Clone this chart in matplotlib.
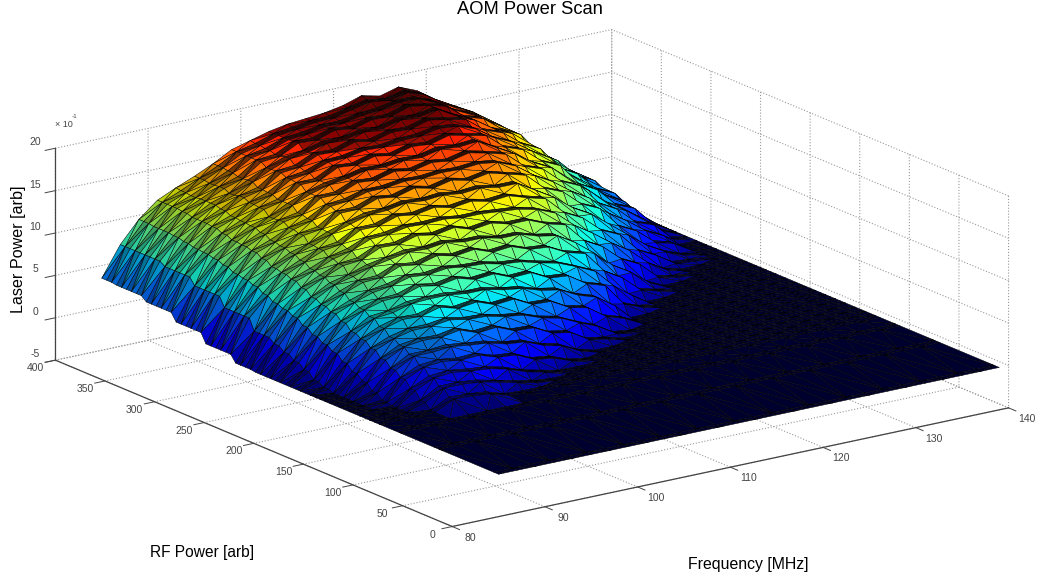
import numpy as np
import matplotlib
matplotlib.use('Agg')
import matplotlib.pyplot as plt
from mpl_toolkits.mplot3d.art3d import Poly3DCollection
from mpl_toolkits.mplot3d import proj3d

plt.rcParams['font.family'] = ['Liberation Sans', 'DejaVu Sans']

# frequency nodes [MHz], 85 to 139 every 2
freq = [85,87,89,91,93,95,97,99,101,103,105,107,109,111,113,115,117,119,121,123,125,127,129,131,133,135,137,139]
# one list per RF power step
z_0   = [0]*28
z_60  = [0]*28
z_100 = [0]*28
z_120 = [0,0,0,0,1.1,1.0,.8,.1,0,0,0,0,0,0,0,0,0,0,0,0,0,0,0,0,0,0,0,0]
z_130 = [0,0,0,.7,1.9,1.9,1.7,1.2,.7,.2,0,0,0,0,0,0,0,0,0,0,0,0,0,0,0,0,0,0]
z_140 = [0,0,0,1.6,2.6,2.8,2.5,2.3,1.8,1.0,.5,0,0,0,0,0,0,0,0,0,0,0,0,0,0,0,0,0]
z_150 = [0,0,.2,2.4,3.4,3.6,3.3,3.4,2.7,2.5,1.5,1.2,.4,0,0,0,0,0,0,0,0,0,0,0,0,0,0,0]
z_160 = [0,0,.8,3.0,4.2,4.2,4.4,4.1,3.9,3.3,3.1,2.2,1.7,.6,0,0,0,0,0,0,0,0,0,0,0,0,0,0]
z_170 = [0,0,1.5,3.7,4.8,5.1,5.0,5.4,4.6,4.8,3.9,3.8,2.7,2.3,1.0,.6,0,0,0,0,0,0,0,0,0,0,0,0]
z_180 = [0,0,2.1,4.4,5.3,5.8,5.8,6.1,5.7,5.6,5.1,4.8,4.0,3.5,2.5,1.6,.3,0,0,0,0,0,0,0,0,0,0,0]
z_190 = [0,.2,2.8,5.0,6.0,6.6,6.5,7.1,6.5,6.8,6.0,6.2,5.1,5.0,3.8,3.3,1.8,1.1,0,0,0,0,0,0,0,0,0,0]
z_200 = [0,.6,3.5,5.4,6.7,6.9,7.5,7.6,7.6,7.3,7.3,6.8,6.5,5.8,5.4,4.3,3.6,2.1,0,0,0,0,0,0,0,0,0,0]
z_210 = [0,1.3,4.0,6.1,7.2,7.8,7.9,8.6,8.2,8.6,8.0,8.2,7.3,7.4,6.3,6.1,4.7,4.0,1.4,.5,0,0,0,0,0,0,0,0]
z_220 = [0,1.9,4.5,6.7,7.6,8.3,8.6,9.2,9.0,9.3,9.0,8.9,8.4,8.2,7.6,7.1,6.2,5.2,3.0,1.4,0,0,0,0,0,0,0,0]
z_230 = [0,2.4,5.1,7.1,8.2,9.0,9.1,10.0,9.7,10.3,9.8,10.1,9.3,9.5,8.7,8.5,7.4,6.8,4.3,3.0,1.1,.5,0,0,0,0,0,0]
z_240 = [0,2.9,5.7,7.5,8.7,9.2,9.9,10.3,10.7,10.6,10.9,10.5,10.5,10.0,10.0,9.3,8.9,7.6,5.9,4.0,2.7,1.0,0,0,0,0,0,0]
z_250 = [.1,3.4,6.1,8.1,9.1,10.0,10.2,11.2,11.1,11.7,11.3,11.7,11.0,11.3,10.7,10.7,9.8,9.2,6.9,5.7,3.8,2.7,.7,.2,0,0,0,0]
z_260 = [.1,3.4,6.4,8.6,9.4,10.3,10.8,11.7,11.8,12.2,12.1,12.2,11.9,11.9,11.7,11.5,11.0,10.1,8.2,6.8,5.2,3.8,1.9,.6,0,0,0,0]
z_270 = [.9,4.7,6.9,8.9,9.9,10.8,11.1,12.3,12.3,13.0,12.7,13.1,12.6,12.9,12.4,12.6,11.9,11.3,9.2,8.1,6.2,5.2,2.9,1.8,.4,.2,0,0]
z_280 = [.9,4.7,7.4,9.1,10.3,10.9,11.8,12.5,13.1,13.2,13.6,13.4,13.6,13.3,13.5,13.1,13.1,11.8,10.5,8.8,7.6,5.9,4.2,2.5,1.3,.4,0,0]
z_290 = [.9,4.7,7.7,9.6,10.6,11.6,11.9,13.3,13.3,14.1,13.8,14.4,13.9,14.4,13.9,14.3,13.7,13.1,11.1,10.2,8.3,7.3,4.8,3.7,1.9,1.3,0,0]
z_300 = [2.0,5.8,7.9,10.0,10.8,11.8,12.4,13.6,13.8,14.4,14.4,14.7,14.6,14.8,14.7,14.9,14.6,13.7,12.1,10.9,9.3,8.0,5.8,4.4,2.8,1.7,0,0]
z_310 = [2.0,5.8,8.3,10.2,11.2,12.2,12.6,14.1,14.1,15.0,14.8,15.4,15.0,15.5,15.2,15.7,15.2,14.6,12.7,11.9,10.0,9.0,6.5,5.3,3.3,2.5,.4,0]
z_320 = [2.0,5.8,8.6,10.3,11.5,12.1,13.2,14.1,14.7,15.0,15.5,15.4,15.7,15.6,16.1,15.9,16.1,14.9,13.7,12.2,11.1,9.3,7.5,5.6,4.2,2.7,.9,0]
z_330 = [2.9,6.6,8.8,10.6,11.6,12.7,13.2,14.7,14.7,15.8,15.6,16.2,15.8,16.4,16.2,16.8,16.3,15.8,14.0,13.2,11.4,10.4,7.8,6.6,4.4,3.5,1.2,0]
z_340 = [2.9,6.6,8.9,10.9,11.7,12.8,13.5,14.8,15.1,15.9,16.0,16.4,16.3,16.6,16.7,17.1,16.9,16.1,14.6,13.6,12.1,10.8,8.4,6.9,5.0,3.8,1.4,0]
z_350 = [2.9,6.6,9.1,11,12,13.1,13.6,15.1,15.3,16.3,16.2,16.9,16.5,17.1,17.0,17.6,17.2,16.7,15.0,14.2,12.5,11.4,8.7,7.5,5.3,4.3,1.8,0]
z_360 = [3.4,7.0,9.3,11.0,12.2,12.9,14.0,15.0,15.8,16.1,16.7,16.7,17.1,17.0,17.6,17.5,17.9,16.7,15.7,14.2,13.2,11.4,9.4,7.5,5.9,4.2,2.1,.1]
z_370 = [3.4,7.0,9.4,11.2,12.2,13.2,13.9,15.4,15.6,16.7,16.6,17.3,17.0,17.6,17.5,18.2,17.9,17.3,15.6,14.9,13.2,12.1,9.4,8.1,5.9,4.8,2.2,.2]
z_380 = [3.4,7.0,9.4,11.3,12.1,13.1,14.1,15.4,15.8,16.6,16.8,17.2,17.2,17.6,17.8,18.2,18.2,17.3,15.9,14.9,13.5,12.1,9.7,8.1,6.2,4.8,2.2,.3]
z_390 = [3.5,7,9.5,11.3,12.2,13.2,14.2,15.4,15.9,16.6,16.9,17.2,17.3,17.8,18.3,17.9,18.5,17.6,16.1,15,13.7,12.2,9.9,8.1,6.3,4.8,2.3,.4]
z_400 = [3.5,7.0,9.5,11.3,12.3,13.2,14.2,15.4,16.0,16.6,17.0,17.2,17.4,17.8,18.5,18.0,18.6,17.7,16.2,15.0,13.8,12.2,10.0,8.2,6.4,4.8,2.4,.4]

rf_steps = [0,60,100,120,130,140,150,160,170,180,190,200,210,220,230,240,250,260,270,280,290,300,310,320,330,340,350,360,370,380,390,400]
z_rows = [z_0,z_60,z_100,z_120,z_130,z_140,z_150,z_160,z_170,z_180,z_190,z_200,z_210,z_220,z_230,z_240,z_250,z_260,z_270,z_280,z_290,z_300,z_310,z_320,z_330,z_340,z_350,z_360,z_370,z_380,z_390,z_400]

# brightness of the dense mesh on the plateaus, per frequency column
plateau_shade = [.6,.6,.6,.58,.55,.5,.45,.4,.3,.22,.2,.2,.2,.2,.2,.2,.22,.25,.28,.3,.32,.35,.38,.4,.42,.45,.45,.45]

freq_ticks = [80,90,100,110,120,130,140]
rf_ticks = [0,50,100,150,200,250,300,350,400]
z_ticks = [-5,0,5,10,15,20]
plateau_width = 5


def build_rows():
    rf = []
    z = []
    plateau = []
    for r, row in zip(rf_steps, z_rows):
        rf.append(r)
        z.append(row)
        plateau.append(True)
        if r < 400:
            rf.append(r + plateau_width)
            z.append(row)
            plateau.append(False)
    return np.array(rf, float), np.array(z, float), plateau


def build_faces(f, rf, z, plateau):
    jet = matplotlib.colormaps['jet']
    zmax = z.max()
    verts = []
    colors = []
    for i in range(len(rf) - 1):
        for j in range(len(f) - 1):
            a = (f[j], rf[i], z[i, j])
            b = (f[j + 1], rf[i], z[i, j + 1])
            c = (f[j + 1], rf[i + 1], z[i + 1, j + 1])
            d = (f[j], rf[i + 1], z[i + 1, j])
            if (i + j) % 2 == 0:
                tris = [(a, b, c), (a, c, d)]
            else:
                tris = [(a, b, d), (b, c, d)]
            for t in tris:
                m = (t[0][2] + t[1][2] + t[2][2]) / 3
                col = np.array(jet(m / zmax))
                if m < .05:
                    col[:3] *= .36
                elif plateau[i]:
                    col[:3] *= plateau_shade[j]
                elif m > 16.4:
                    col[:3] *= .6
                elif j < 6:
                    col[:3] *= .8
                verts.append(t)
                colors.append(col)
    return verts, colors


def tick_text(ax, x, y, z, label, dx, dy):
    # dx, dy in pixels from the point on the axis
    x2, y2, _ = proj3d.proj_transform(x, y, z, ax.get_proj())
    ax.annotate(label, xy=(x2, y2), xycoords='data', xytext=(dx * .72, -dy * .72), textcoords='offset points',
                ha='center', va='center', fontsize=7.5, color='#444444', annotation_clip=False)


def main():
    fig = plt.figure(figsize=(10.46, 5.81), dpi=100)
    ax = fig.add_axes([244.4 / 1046, 15.4 / 581, 560 / 1046, 560 / 581], projection='3d', proj_type='ortho')
    ax.patch.set_visible(False)
    ax.view_init(elev=17.4, azim=-125.5)
    ax.set_box_aspect((1, 1, .325), zoom=1.719)

    rf, z, plateau = build_rows()
    verts, colors = build_faces(freq, rf, z, plateau)
    coll = Poly3DCollection(verts, facecolors=colors, edgecolors='k', linewidths=.35)
    ax.add_collection3d(coll)
    coll.set_clip_on(False)

    ax.set_xlim(80, 140, view_margin=0)
    ax.set_ylim(0, 400, view_margin=0)
    ax.set_zlim(-5, 20, view_margin=0)
    ax.set_xticks(freq_ticks)
    ax.set_yticks(rf_ticks)
    ax.set_zticks(z_ticks)
    ax.set_xticklabels([])
    ax.set_yticklabels([])
    ax.set_zticklabels([])

    for axis in (ax.xaxis, ax.yaxis, ax.zaxis):
        axis.set_pane_color((1, 1, 1, 0))
        axis.pane.set_edgecolor('none')
        axis.line.set_color('#444444')
        axis.line.set_linewidth(.9)
        axis._axinfo['grid'].update(color='#999999', linestyle=':', linewidth=.8)
        axis._axinfo['tick'].update(inward_factor=0, outward_factor=-.23, linewidth={True: .7, False: .5}, color='#444444')
    ax.zaxis.set_ticks_position('upper')
    ax.tick_params(colors='#444444')

    for t in freq_ticks:
        tick_text(ax, t, 0, -5, str(t), 18, 11)
    for t in rf_ticks:
        tick_text(ax, 80, t, -5, str(t), -20, 8)
    for t in z_ticks:
        tick_text(ax, 80, 400, t, str(t), -20, -6)

    fig.text(530 / 1046, 1 - 9 / 581, 'AOM Power Scan', ha='center', va='center', fontsize=13.2)
    fig.text(748 / 1046, 1 - 564 / 581, 'Frequency [MHz]', ha='center', va='center', fontsize=11.4)
    fig.text(202 / 1046, 1 - 552 / 581, 'RF Power [arb]', ha='center', va='center', fontsize=11.2)
    fig.text(19 / 1046, 1 - 249 / 581, 'Laser Power [arb]', ha='center', va='center', rotation=90, fontsize=11.6)
    fig.text(55 / 1046, 1 - 125 / 581, '× 10', ha='left', va='center', fontsize=6.5, color='#444444')
    fig.text(72 / 1046, 1 - 117 / 581, '-1', ha='left', va='center', fontsize=4.5, color='#444444')

    fig.savefig('out.png', dpi=100)


if __name__ == "__main__":
    main()
